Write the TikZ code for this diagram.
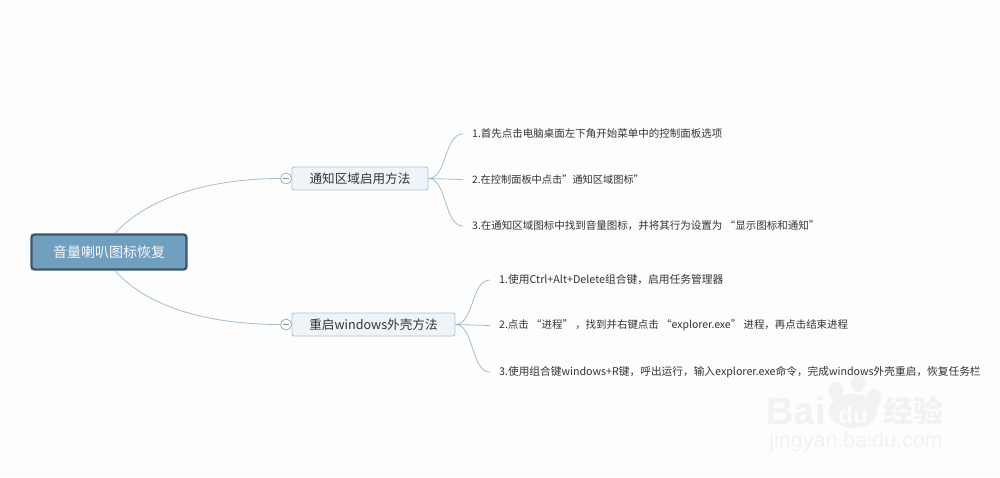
\documentclass[tikz,border=0pt]{standalone}
\usepackage{fontspec}
\setmainfont{Noto Sans CJK SC}
\newfontfamily\markfont{Liberation Sans}
\definecolor{paper}{HTML}{FDFDFD}
\definecolor{rootfill}{HTML}{709FC0}
\definecolor{rootline}{HTML}{3D566B}
\definecolor{topicfill}{HTML}{EFF4F8}
\definecolor{topicline}{HTML}{A9C5DB}
\definecolor{branchline}{HTML}{9FBFD6}
\definecolor{inktext}{HTML}{333333}
\definecolor{markgray}{HTML}{F2F2F2}
\tikzset{
  rootbox/.style={draw=rootline, line width=2.4pt, fill=rootfill, rounded corners=3pt, text=white!94!rootfill,
    minimum width=155pt, minimum height=35pt, inner sep=0pt, font=\fontsize{14}{16}\selectfont},
  topicbox/.style={draw=topicline, line width=0.9pt, fill=topicfill, rounded corners=2pt, text=inktext,
    minimum height=23pt, inner sep=0pt, font=\fontsize{12.6}{16}\selectfont},
  leaftext/.style={anchor=west, text=inktext, inner xsep=9pt, inner ysep=2pt, font=\fontsize{10.5}{13}\selectfont},
  branch/.style={draw=branchline, line width=0.8pt},
  foldmark/.style={circle, draw=black!40, fill=paper, line width=0.6pt, minimum size=11pt, inner sep=0pt},
  markword/.style={text=markgray, inner sep=0pt},
}
\begin{document}
\begin{tikzpicture}[x=1pt, y=-1pt]
  \fill[paper] (0,0) rectangle (1000,477);  % page
  \useasboundingbox (0,0) rectangle (1000,477);

  % watermark
  \fill[markgray] (853,411) ellipse (24 and 17);  % paw
  \fill[markgray] (836,391) ellipse (7 and 9);  % toe
  \fill[markgray] (858,383) ellipse (7 and 9);  % toe
  \fill[markgray] (874,398) ellipse (7 and 9);  % toe
  \node[markword, font=\markfont\bfseries\fontsize{38}{40}\selectfont] (markbai) at (796,411) {Bai};  % watermark word
  \node[text=paper, inner sep=0pt, font=\markfont\bfseries\fontsize{24}{26}\selectfont] (markdu) at (853,415) {du};  % watermark word
  \node[markword, font=\bfseries\fontsize{30}{32}\selectfont] (markjy) at (913,411) {经验};  % watermark word
  \node[markword, font=\markfont\fontsize{21.5}{24}\selectfont] (markurl) at (856,442) {jingyan.baidu.com};  % watermark url

  % central topic
  \node[rootbox] (root) at (109,252) {音量喇叭图标恢复};

  % first branch
  \node[topicbox, minimum width=136pt] (area) at (360,178.5) {通知区域启用方法};
  \node[foldmark] (areafold) at (286,178.5) {};  % fold mark
  \draw[black!45, line width=0.6pt] ([xshift=2.5pt]areafold.west) -- ([xshift=-2.5pt]areafold.east);  % minus
  \draw[branch] ([xshift=6pt]root.north) .. controls (150,195) and (215,178.5) .. (areafold.west);
  \node[leaftext] (areaone) at (463,134) {1.首先点击电脑桌面左下角开始菜单中的控制面板选项};
  \node[leaftext, font=\fontsize{10.2}{13}\selectfont] (areatwo) at (463,179.5) {2.在控制面板中点击"通知区域图标"};
  \node[leaftext] (areathree) at (463,226) {3.在通知区域图标中找到音量图标，并将其行为设置为 “显示图标和通知”};
  \draw[branch] (area.east) .. controls (447,178.5) and (444,134) .. (areaone.west);
  \draw[branch] (area.east) -- (areatwo.west);
  \draw[branch] (area.east) .. controls (447,178.5) and (444,226) .. (areathree.west);

  % second branch
  \node[topicbox, minimum width=163pt] (shell) at (373.5,324.5) {重启windows外壳方法};
  \node[foldmark] (shellfold) at (286,324.5) {};  % fold mark
  \draw[black!45, line width=0.6pt] ([xshift=2.5pt]shellfold.west) -- ([xshift=-2.5pt]shellfold.east);  % minus
  \draw[branch] ([xshift=6pt]root.south) .. controls (150,310) and (215,324.5) .. (shellfold.west);
  \node[leaftext, font=\fontsize{10.75}{13}\selectfont] (shellone) at (490,280) {1.使用Ctrl+Alt+Delete组合键，启用任务管理器};
  \node[leaftext, font=\fontsize{10.45}{13}\selectfont] (shelltwo) at (490,325.5) {2.点击 “进程” ，找到并右键点击 “explorer.exe” 进程，再点击结束进程};
  \node[leaftext, font=\fontsize{10.69}{13}\selectfont] (shellthree) at (490,372) {3.使用组合键windows+R键，呼出运行，输入explorer.exe命令，完成windows外壳重启，恢复任务栏};
  \draw[branch] (shell.east) .. controls (474,324.5) and (471,280) .. (shellone.west);
  \draw[branch] (shell.east) -- (shelltwo.west);
  \draw[branch] (shell.east) .. controls (474,324.5) and (471,372) .. (shellthree.west);
\end{tikzpicture}
\end{document}
